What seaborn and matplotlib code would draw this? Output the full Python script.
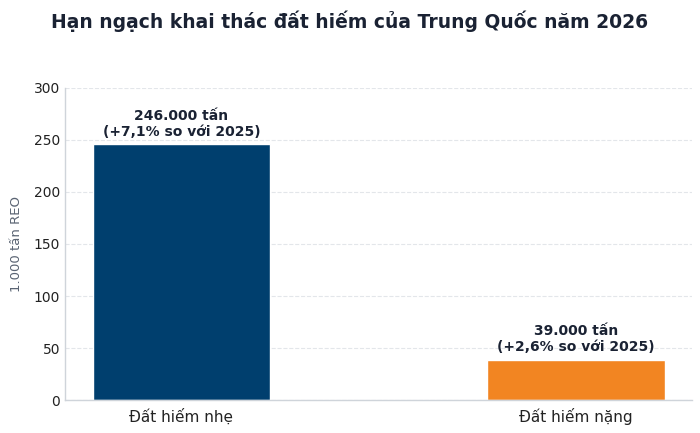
import matplotlib
matplotlib.use('Agg')
import matplotlib.pyplot as plt
import seaborn as sns
import pandas as pd

categories = ['Đất hiếm nhẹ', 'Đất hiếm nặng']
values = [246, 39]
labels = ['246.000 tấn\n(+7,1% so với 2025)', '39.000 tấn\n(+2,6% so với 2025)']
colors = ['#003f6e', '#f28522']

sns.set_style('white')
plt.rcParams['font.family'] = ['DejaVu Sans']

df = pd.DataFrame({'loai': categories, 'san_luong': values})

fig = plt.figure(figsize=(7, 4.33), dpi=100)
ax = fig.add_axes([0.093, 0.076, 0.896, 0.721])
sns.barplot(data=df, x='loai', y='san_luong', hue='loai', palette=colors,
            width=0.45, legend=False, ax=ax, saturation=1)

for i, (v, lab) in enumerate(zip(values, labels)):
    ax.text(i, v + 5, lab, ha='center', va='bottom', fontsize=10,
            fontweight='bold', color='#1a2233', linespacing=1.2)

ax.set_ylim(0, 300)
ax.set_xlim(-0.295, 1.295)
ax.set_yticks([0, 50, 100, 150, 200, 250, 300])
ax.yaxis.grid(True, linestyle='--', color='#e3e6ea', linewidth=0.8)
ax.set_axisbelow(True)
ax.set_xlabel('')
ax.set_ylabel('1.000 tấn REO', fontsize=9.5, color='#5a6473', labelpad=8)
ax.tick_params(axis='y', length=0, labelsize=10, colors='#222222')
ax.tick_params(axis='x', length=4, labelsize=11, colors='#222222', color='#555555', pad=2)
for s in ['top', 'right']:
    ax.spines[s].set_visible(False)
for s in ['left', 'bottom']:
    ax.spines[s].set_color('#cfd4da')
    ax.spines[s].set_linewidth(1)

fig.suptitle('Hạn ngạch khai thác đất hiếm của Trung Quốc năm 2026',
             fontsize=13.5, fontweight='bold', color='#1a2233', y=0.975)

fig.savefig('out.png', dpi=100)
